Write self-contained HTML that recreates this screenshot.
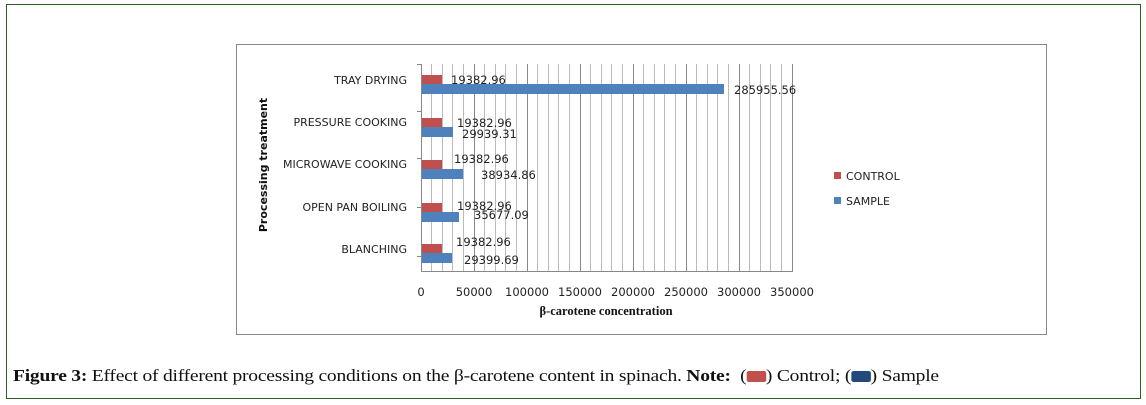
<!DOCTYPE html>
<html><head><meta charset="utf-8"><style>
body{margin:0;width:1146px;height:405px;background:#fff;overflow:hidden;position:relative;font-family:"DejaVu Sans","Liberation Sans",sans-serif}
.frame{position:absolute;left:6px;top:4px;width:1133px;height:393px;border:1px solid #2e5e24}
.cap{position:absolute;left:13px;top:366px;font-family:"Liberation Serif",serif;font-size:17px;color:#111;white-space:nowrap;letter-spacing:-0.2px;transform:scaleX(1.15);transform-origin:0 0}
.sw{display:inline-block;width:17px;height:11px;vertical-align:-1px;border-radius:2px}
</style></head><body>
<div class="frame"></div>
<svg width="1146" height="405" style="position:absolute;left:0;top:0" font-family="DejaVu Sans, Liberation Sans, sans-serif">
<rect x="236.5" y="44.5" width="810" height="290" fill="#fff" stroke="#888"/>
<g stroke="#bbb" stroke-width="1">
<line x1="431.5" y1="64" x2="431.5" y2="272"/><line x1="442.5" y1="64" x2="442.5" y2="272"/><line x1="452.5" y1="64" x2="452.5" y2="272"/><line x1="463.5" y1="64" x2="463.5" y2="272"/>
<line x1="484.5" y1="64" x2="484.5" y2="272"/><line x1="495.5" y1="64" x2="495.5" y2="272"/><line x1="505.5" y1="64" x2="505.5" y2="272"/><line x1="516.5" y1="64" x2="516.5" y2="272"/>
<line x1="537.5" y1="64" x2="537.5" y2="272"/><line x1="548.5" y1="64" x2="548.5" y2="272"/><line x1="558.5" y1="64" x2="558.5" y2="272"/><line x1="569.5" y1="64" x2="569.5" y2="272"/>
<line x1="590.5" y1="64" x2="590.5" y2="272"/><line x1="601.5" y1="64" x2="601.5" y2="272"/><line x1="611.5" y1="64" x2="611.5" y2="272"/><line x1="622.5" y1="64" x2="622.5" y2="272"/>
<line x1="643.5" y1="64" x2="643.5" y2="272"/><line x1="654.5" y1="64" x2="654.5" y2="272"/><line x1="664.5" y1="64" x2="664.5" y2="272"/><line x1="675.5" y1="64" x2="675.5" y2="272"/>
<line x1="696.5" y1="64" x2="696.5" y2="272"/><line x1="707.5" y1="64" x2="707.5" y2="272"/><line x1="717.5" y1="64" x2="717.5" y2="272"/><line x1="728.5" y1="64" x2="728.5" y2="272"/>
<line x1="749.5" y1="64" x2="749.5" y2="272"/><line x1="760.5" y1="64" x2="760.5" y2="272"/><line x1="770.5" y1="64" x2="770.5" y2="272"/><line x1="781.5" y1="64" x2="781.5" y2="272"/>
</g>
<g stroke="#888" stroke-width="1">
<line x1="474.5" y1="64" x2="474.5" y2="272"/><line x1="527.5" y1="64" x2="527.5" y2="272"/><line x1="580.5" y1="64" x2="580.5" y2="272"/><line x1="633.5" y1="64" x2="633.5" y2="272"/><line x1="686.5" y1="64" x2="686.5" y2="272"/><line x1="739.5" y1="64" x2="739.5" y2="272"/><line x1="792.5" y1="64" x2="792.5" y2="272"/>
<line x1="421.5" y1="64" x2="421.5" y2="272"/><line x1="421" y1="271.5" x2="793" y2="271.5"/>
<line x1="417" y1="64.5" x2="421" y2="64.5"/><line x1="417" y1="111.5" x2="421" y2="111.5"/><line x1="417" y1="158.5" x2="421" y2="158.5"/><line x1="417" y1="207.5" x2="421" y2="207.5"/><line x1="417" y1="256.5" x2="421" y2="256.5"/>
</g>
<g fill="#c0504d">
<rect x="422" y="75" width="20" height="9"/><rect x="422" y="118" width="20" height="9"/><rect x="422" y="160" width="20" height="9"/><rect x="422" y="203" width="20" height="9"/><rect x="422" y="244" width="20" height="9"/>
</g>
<g fill="#4f81bd">
<rect x="422" y="84" width="302" height="10"/><rect x="422" y="127" width="31" height="10"/><rect x="422" y="169" width="41" height="10"/><rect x="422" y="212" width="37" height="10"/><rect x="422" y="253" width="30" height="10"/>
</g>
<g font-size="11.5" fill="#222">
<text x="451" y="84">19382.96</text><text x="734" y="94">285955.56</text>
<text x="457" y="127">19382.96</text><text x="462" y="138">29939.31</text>
<text x="454" y="163">19382.96</text><text x="481" y="179">38934.86</text>
<text x="457" y="210">19382.96</text><text x="474" y="219">35677.09</text>
<text x="456" y="246">19382.96</text><text x="464" y="264">29399.69</text>
</g>
<g font-size="11" fill="#222" text-anchor="end">
<text x="407" y="84">TRAY DRYING</text><text x="407" y="126">PRESSURE COOKING</text><text x="407" y="168">MICROWAVE COOKING</text><text x="407" y="211">OPEN PAN BOILING</text><text x="407" y="253">BLANCHING</text>
</g>
<g font-size="11.5" fill="#222" text-anchor="middle">
<text x="421" y="296">0</text><text x="474" y="296">50000</text><text x="527" y="296">100000</text><text x="580" y="296">150000</text><text x="633" y="296">200000</text><text x="686" y="296">250000</text><text x="739" y="296">300000</text><text x="792" y="296">350000</text>
</g>
<text x="606" y="315" font-family="Liberation Serif, serif" font-weight="bold" font-size="12.5" text-anchor="middle" fill="#111">β-carotene concentration</text>
<text transform="translate(267,165) rotate(-90)" font-weight="bold" font-size="11" text-anchor="middle" fill="#111">Processing treatment</text>
<rect x="834" y="172" width="7" height="7" fill="#c0504d"/><text x="846" y="180" font-size="11" fill="#222">CONTROL</text>
<rect x="834" y="197" width="7" height="7" fill="#4f81bd"/><text x="846" y="205" font-size="11" fill="#222">SAMPLE</text>
</svg>
<div class="cap"><b>Figure 3:</b> Effect of different processing conditions on the β-carotene content in spinach. <b>Note:</b>&nbsp; (<span class="sw" style="background:#c0504d"></span>) Control; (<span class="sw" style="background:#24497c"></span>) Sample</div>
</body></html>
